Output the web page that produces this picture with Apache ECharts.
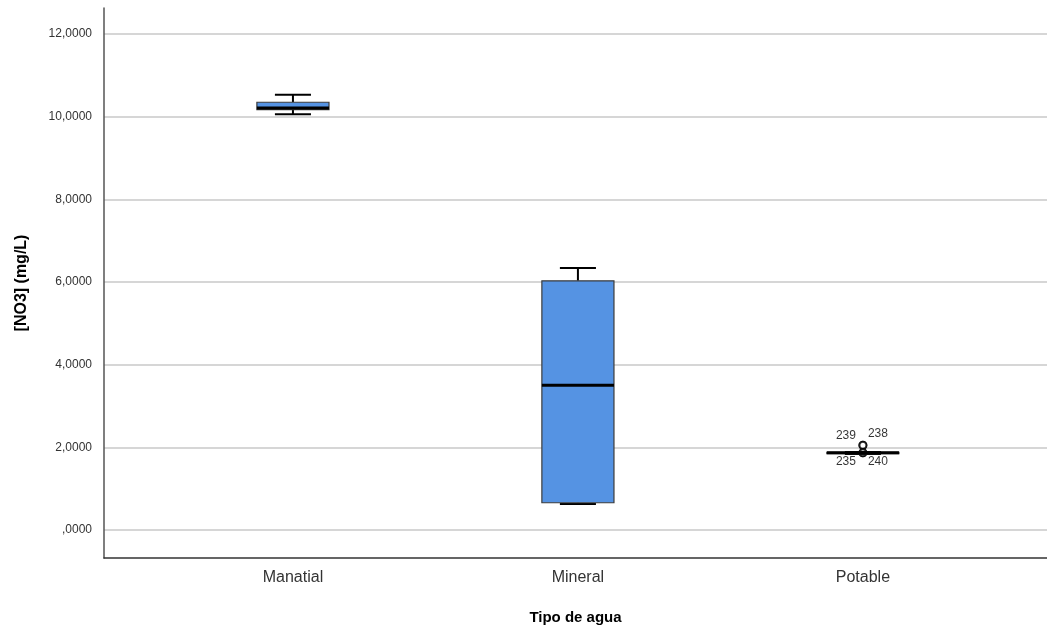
<!DOCTYPE html>
<html>
<head>
<meta charset="utf-8">
<script src="https://cdn.jsdelivr.net/npm/echarts@6/dist/echarts.min.js"></script>
<style>
html,body{margin:0;padding:0;background:#fff;}
#c{width:1047px;height:634px;}
</style>
</head>
<body>
<div id="c"></div>
<script>
const categories = ['Manatial', 'Mineral', 'Potable'];
// [min, Q1, median, Q3, max]
const boxMin    = [10.06, 0.63, 1.84];
const boxQ1     = [10.17, 0.66, 1.85];
const boxMedian = [10.21, 3.50, 1.87];
const boxQ3     = [10.35, 6.03, 1.88];
const boxMax    = [10.53, 6.34, 1.89];
const outlierCategory = [2, 2, 2, 2];
const outlierValues   = [2.05, 2.05, 1.87, 1.87];
const outlierIds      = ['239', '238', '235', '240'];
const yTickValues = [0, 2, 4, 6, 8, 10, 12];

const chart = echarts.init(document.getElementById('c'));
const font = "'Liberation Sans', Arial, sans-serif";

function fmtY(v) {
  let s = v.toFixed(4).replace('.', ',');
  if (s.startsWith('0,')) s = s.slice(1);
  return s;
}

const boxData = categories.map((c, i) => [i, boxMin[i], boxQ1[i], boxMedian[i], boxQ3[i], boxMax[i]]);
const labelPos = [[-17, -10], [15, -12], [-17, 9], [15, 9]];
const outlierData = outlierValues.map((v, i) => ({
  value: [outlierCategory[i], v],
  label: { offset: labelPos[i] }
}));

chart.setOption({
  animation: false,
  grid: { left: 104, right: 0, top: 8, bottom: 76 },
  xAxis: {
    type: 'value',
    min: -0.663, max: 2.646,
    minInterval: 1, maxInterval: 1,
    name: 'Tipo de agua',
    nameLocation: 'middle',
    nameGap: 52,
    nameTextStyle: { fontFamily: font, fontSize: 15, fontWeight: 'bold', color: '#000' },
    axisLine: { show: true, onZero: false, lineStyle: { color: '#333', width: 1.5 } },
    axisTick: { show: false },
    splitLine: { show: false },
    axisLabel: {
      showMinLabel: false, showMaxLabel: false,
      fontFamily: font, fontSize: 16, color: '#333', margin: 12,
      formatter: v => (Number.isInteger(v) && categories[v] !== undefined) ? categories[v] : ''
    }
  },
  yAxis: {
    type: 'value',
    min: -0.677, max: 12.63,
    minInterval: 2, maxInterval: 2,
    name: '[NO3] (mg/L)',
    nameLocation: 'middle',
    nameGap: 74,
    nameTextStyle: { fontFamily: font, fontSize: 16, fontWeight: 'bold', color: '#000' },
    axisLine: { show: true, onZero: false, lineStyle: { color: '#555', width: 1.5 } },
    axisTick: { show: false },
    splitLine: { show: true, showMinLine: false, showMaxLine: false, lineStyle: { color: '#c8c8c8', width: 1.5 } },
    axisLabel: {
      showMinLabel: false, showMaxLabel: false,
      fontFamily: font, fontSize: 12, color: '#333', margin: 12,
      formatter: v => yTickValues.includes(Math.round(v * 1000) / 1000) ? fmtY(v) : ''
    }
  },
  series: [
    {
      type: 'custom',
      data: boxData,
      z: 3,
      renderItem: function (params, api) {
        const x = api.value(0);
        const pMin = api.coord([x, api.value(1)]);
        const pQ1 = api.coord([x, api.value(2)]);
        const pMed = api.coord([x, api.value(3)]);
        const pQ3 = api.coord([x, api.value(4)]);
        const pMax = api.coord([x, api.value(5)]);
        const half = api.size([0.253, 0])[0] / 2;
        const cap = half / 2;
        const cx = pMed[0];
        const wStyle = { stroke: '#000', lineWidth: 2, fill: null };
        return {
          type: 'group',
          children: [
            { type: 'line', shape: { x1: cx, y1: pQ3[1], x2: cx, y2: pMax[1] }, style: wStyle },
            { type: 'line', shape: { x1: cx, y1: pQ1[1], x2: cx, y2: pMin[1] }, style: wStyle },
            { type: 'line', shape: { x1: cx - cap, y1: pMax[1], x2: cx + cap, y2: pMax[1] }, style: wStyle },
            { type: 'line', shape: { x1: cx - cap, y1: pMin[1], x2: cx + cap, y2: pMin[1] }, style: wStyle },
            { type: 'rect', shape: { x: cx - half, y: pQ3[1], width: half * 2, height: Math.max(pQ1[1] - pQ3[1], 1) },
              style: { fill: '#5593e3', stroke: '#3c3c3c', lineWidth: 1.2 } },
            { type: 'line', shape: { x1: cx - half, y1: pMed[1], x2: cx + half, y2: pMed[1] }, style: { stroke: '#000', lineWidth: 3 } }
          ]
        };
      }
    },
    {
      type: 'scatter',
      data: outlierData,
      z: 2,
      symbol: 'circle',
      symbolSize: 7,
      itemStyle: { color: '#fff', borderColor: '#000', borderWidth: 2 },
      label: {
        show: true,
        position: 'inside',
        fontFamily: font, fontSize: 12, color: '#000',
        formatter: p => outlierIds[p.dataIndex]
      }
    }
  ]
});
</script>
</body>
</html>
